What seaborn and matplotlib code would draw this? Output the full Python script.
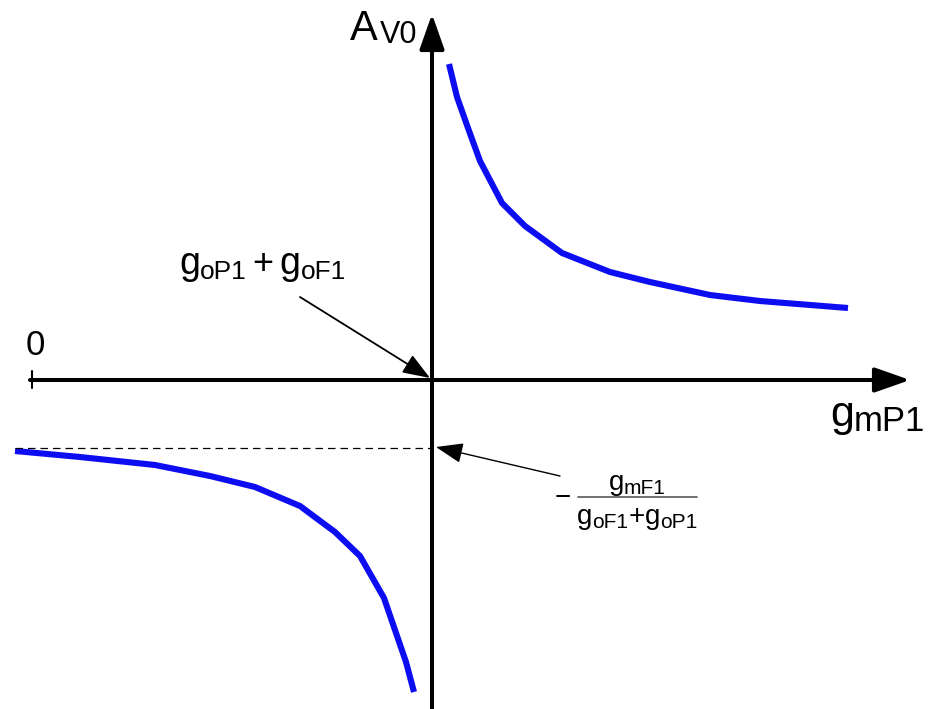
import matplotlib
matplotlib.use("Agg")
import matplotlib.pyplot as plt
from matplotlib.transforms import IdentityTransform
import seaborn as sns
import pandas as pd

# Curve data (x = g_mP1 offset from the pole, y = A_V0), in arbitrary drawing units
upper_x = [17, 25, 36, 48, 70, 93, 130, 178, 218, 278, 328, 416]
upper_y = [316, 283, 252, 219, 177, 154, 127, 108, 98, 85, 79, 72]
lower_x = [-417, -352, -277, -222, -177, -132, -97, -72, -48, -26, -18]
lower_y = [-71, -77, -85, -96, -107, -126, -152, -176, -218, -282, -312]
asymptote_y = -68

sns.set_theme(style="white")
plt.rcParams['font.family'] = ['Liberation Sans', 'DejaVu Sans']

fig = plt.figure(figsize=(9.32, 7.09), dpi=100)
ax = fig.add_axes([0, 0, 1, 1])
ax.set_xlim(-432, 500)
ax.set_ylim(-329, 380)
ax.axis('off')

blue = '#0d0df2'
df_u = pd.DataFrame({'x': upper_x, 'y': upper_y})
df_l = pd.DataFrame({'x': lower_x, 'y': lower_y})
sns.lineplot(data=df_u, x='x', y='y', ax=ax, color=blue, lw=4.4, sort=False,
             solid_capstyle='butt', solid_joinstyle='round')
sns.lineplot(data=df_l, x='x', y='y', ax=ax, color=blue, lw=4.4, sort=False,
             solid_capstyle='butt', solid_joinstyle='round')

# axes with arrows
head = '-|>,head_length=1.08,head_width=0.38'
ax.annotate('', xy=(478, 0), xytext=(-402, 0),
            arrowprops=dict(arrowstyle=head, lw=2.9, color='black', mutation_scale=20,
                            shrinkA=0, shrinkB=0))
ax.annotate('', xy=(0, 366), xytext=(0, -329),
            arrowprops=dict(arrowstyle=head, lw=2.9, color='black', mutation_scale=20,
                            shrinkA=0, shrinkB=0))
ax.plot([-400, -400], [9, -8], color='black', lw=1.5)

# dashed asymptote
ax.plot([-417, 0], [asymptote_y, asymptote_y], color='black', lw=0.9, ls=(0, (6, 4)))

# pointer arrows
ptr = '-|>,head_length=1.2,head_width=0.45'
ax.annotate('', xy=(-2, 2), xytext=(-132, 83),
            arrowprops=dict(arrowstyle=ptr, lw=1.3, color='black', mutation_scale=14,
                            shrinkA=0, shrinkB=0))
ax.annotate('', xy=(4, asymptote_y + 1), xytext=(128, -96),
            arrowprops=dict(arrowstyle=ptr, lw=1.0, color='black', mutation_scale=14,
                            shrinkA=0, shrinkB=0))

renderer = fig.canvas.get_renderer()


def rich(x, y, parts, ha='left'):
    """parts: list of (text, fontsize, drop_px, gap_px_before)"""
    bx, by = ax.transData.transform((x, y))
    items = []
    cur = 0.0
    for s, fs, drop, gap in parts:
        t = ax.text(0, 0, s, fontsize=fs, color='black', ha='left', va='baseline',
                    transform=IdentityTransform())
        w = t.get_window_extent(renderer).width
        cur += gap
        items.append((t, cur, drop))
        cur += w
    off = {'left': 0, 'center': -cur / 2, 'right': -cur}[ha]
    for t, cx, drop in items:
        t.set_position((bx + off + cx, by - drop))


# labels
rich(-82, 340, [('A', 30, 0, 0), ('V0', 22, 3, 2)])
ax.text(-397, 25, '0', fontsize=25, color='black', ha='center', va='baseline')
rich(-253, 106, [('g', 27, 0, 0), ('oP1', 19, 5, 0), ('+', 26, 0, 6),
                 ('g', 27, 0, 6), ('oF1', 19, 5, 0)])
rich(398, -46, [('g', 31, 0, 0), ('mP1', 25, 5, 0)])

# fraction label
ax.text(131, -118, '\u2212', fontsize=20, color='black', ha='center', va='center')
ax.plot([146, 265], [-117, -117], color='#666666', lw=1.3)
rich(205, -110, [('g', 20, 0, 0), ('mF1', 15, 4, 0)], ha='center')
rich(205, -144, [('g', 20, 0, 0), ('oF1', 15, 4, 0), ('+', 20, 0, 0),
                 ('g', 20, 0, 0), ('oP1', 15, 4, 0)], ha='center')

fig.savefig('out.png', dpi=100)
